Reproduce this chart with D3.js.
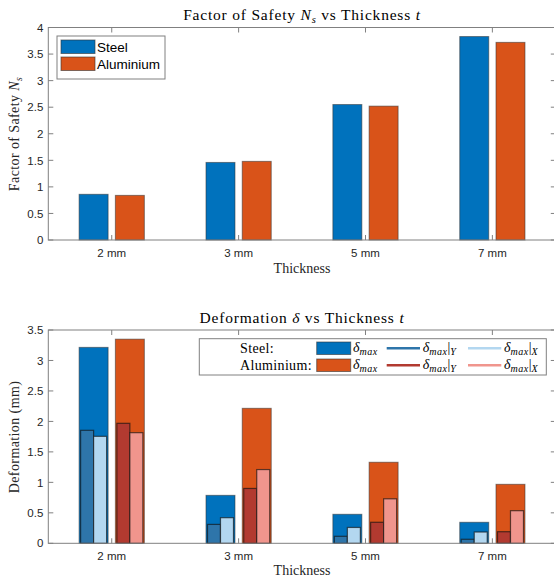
<!DOCTYPE html>
<html>
<head>
<meta charset="utf-8">
<script src="https://cdn.jsdelivr.net/npm/d3@7"></script>
<style>
  body { margin: 0; background: #fff; }
  svg { display: block; }
</style>
</head>
<body>
<div id="plot"></div>
<script>
// data
var thickness = ["2 mm", "3 mm", "5 mm", "7 mm"];
var materials = ["Steel", "Aluminium"];
var safetySteel = [0.86, 1.46, 2.55, 3.83];
var safetyAlu = [0.84, 1.48, 2.52, 3.72];
var defMaxSteel = [3.215, 0.787, 0.476, 0.345];
var defYSteel = [1.854, 0.31, 0.115, 0.066];
var defXSteel = [1.755, 0.42, 0.26, 0.185];
var defMaxAlu = [3.35, 2.215, 1.33, 0.968];
var defYAlu = [1.969, 0.90, 0.345, 0.19];
var defXAlu = [1.815, 1.21, 0.73, 0.535];
var safetyTicks = [0, 0.5, 1, 1.5, 2, 2.5, 3, 3.5, 4];
var defTicks = [0, 0.5, 1, 1.5, 2, 2.5, 3, 3.5];

var w = 554, h = 578;
var left = 48.3, right = 555.8;
var serif = "'Liberation Serif', 'DejaVu Serif', serif";
var sans = "'Liberation Sans', Arial, sans-serif";
var axisCol = "#808080", textCol = "#262626";

var colMax = { Steel: "#0072BD", Aluminium: "#D95319" };
var colY = { Steel: "#2E75AA", Aluminium: "#B23A30" };
var colX = { Steel: "#B3D7F0", Aluminium: "#F0958D" };

var svg = d3.select("#plot").append("svg")
  .attr("width", w).attr("height", h);

var x0 = d3.scaleBand().domain(thickness).range([left, right]);
var step = x0.bandwidth();
var x1 = d3.scaleBand().domain(materials)
  .range([-0.2857 * step, 0.2857 * step])
  .paddingInner(0.2).paddingOuter(0.1);

// draws axes box with ticks inward, like matlab
function drawAxes(y, ticks, top, bottom) {
  var g = svg.append("g");
  var ax = d3.axisBottom(x0).tickSize(0).tickPadding(9);
  var gx = g.append("g").attr("transform", "translate(0," + bottom + ")").call(ax);
  gx.select(".domain").remove();
  gx.selectAll("text").attr("font-family", sans).attr("font-size", 11.5).attr("fill", textCol);

  var ay = d3.axisLeft(y).tickValues(ticks).tickSize(0).tickPadding(5)
    .tickFormat(function(d) { return d; });
  var gy = g.append("g").attr("transform", "translate(" + left + ",0)").call(ay);
  gy.select(".domain").remove();
  gy.selectAll("text").attr("font-family", sans).attr("font-size", 11.5).attr("fill", textCol);

  // inward ticks
  thickness.forEach(function(c) {
    var cx = x0(c) + step / 2;
    g.append("line").attr("x1", cx).attr("x2", cx).attr("y1", bottom).attr("y2", bottom - 5)
      .attr("stroke", axisCol);
    g.append("line").attr("x1", cx).attr("x2", cx).attr("y1", top).attr("y2", top + 5)
      .attr("stroke", axisCol);
  });
  ticks.forEach(function(t) {
    g.append("line").attr("x1", left).attr("x2", left + 5).attr("y1", y(t)).attr("y2", y(t))
      .attr("stroke", axisCol);
    g.append("line").attr("x1", right - 5).attr("x2", right).attr("y1", y(t)).attr("y2", y(t))
      .attr("stroke", axisCol);
  });
  g.append("rect").attr("x", left).attr("y", top).attr("width", right - left)
    .attr("height", bottom - top).attr("fill", "none").attr("stroke", axisCol);
  return g;
}

// ---------- top chart ----------
var topY = 27.5, botY = 240;
var y1 = d3.scaleLinear().domain([0, 4]).range([botY, topY]);

var safetyRows = thickness.map(function(c, i) {
  return [{ c: c, m: "Steel", v: safetySteel[i] }, { c: c, m: "Aluminium", v: safetyAlu[i] }];
});
var gTop = svg.append("g");
gTop.selectAll("rect")
  .data(d3.merge(safetyRows))
  .enter().append("rect")
  .attr("x", function(d) { return x0(d.c) + step / 2 + x1(d.m); })
  .attr("width", x1.bandwidth())
  .attr("y", function(d) { return y1(d.v); })
  .attr("height", function(d) { return y1(0) - y1(d.v); })
  .attr("fill", function(d) { return colMax[d.m]; })
  .attr("stroke", "#333").attr("stroke-opacity", 0.55).attr("stroke-width", 1);

drawAxes(y1, safetyTicks, topY, botY);

// top legend
var lg = svg.append("g");
lg.append("rect").attr("x", 57).attr("y", 36).attr("width", 108).attr("height", 43)
  .attr("fill", "#fff").attr("stroke", axisCol);
materials.forEach(function(m, i) {
  lg.append("rect").attr("x", 61).attr("y", 40 + i * 17).attr("width", 34).attr("height", 13.5)
    .attr("fill", colMax[m]).attr("stroke", "#333").attr("stroke-opacity", 0.6);
  lg.append("text").attr("x", 97).attr("y", 51.5 + i * 17).text(m)
    .attr("font-family", sans).attr("font-size", 13.5).attr("fill", "#000");
});

// titles / labels top
var t1 = svg.append("text").attr("x", 302).attr("y", 20).attr("text-anchor", "middle")
  .attr("font-family", serif).attr("font-size", 15.5).attr("letter-spacing", 0.8).attr("fill", "#000");
t1.append("tspan").text("Factor of Safety ");
t1.append("tspan").attr("font-style", "italic").text("N");
t1.append("tspan").attr("font-style", "italic").attr("font-size", 10.5).attr("dy", 3).text("s");
t1.append("tspan").attr("dy", -3).text(" vs Thickness ");
t1.append("tspan").attr("font-style", "italic").text("t");

svg.append("text").attr("x", 302).attr("y", 273).attr("text-anchor", "middle")
  .attr("font-family", serif).attr("font-size", 14).attr("fill", "#262626").text("Thickness");

var yl1 = svg.append("text").attr("transform", "translate(19,134) rotate(-90)")
  .attr("text-anchor", "middle").attr("font-family", serif).attr("font-size", 14)
  .attr("letter-spacing", 0.4).attr("fill", "#262626");
yl1.append("tspan").text("Factor of Safety ");
yl1.append("tspan").attr("font-style", "italic").text("N");
yl1.append("tspan").attr("font-style", "italic").attr("font-size", 9.5).attr("dy", 3).text("s");

// ---------- bottom chart ----------
var topB = 330, botB = 543.3;
var y2 = d3.scaleLinear().domain([0, 3.5]).range([botB, topB]);

var defRows = [];
thickness.forEach(function(c, i) {
  defRows.push({ c: c, m: "Steel", max: defMaxSteel[i], y: defYSteel[i], x: defXSteel[i] });
  defRows.push({ c: c, m: "Aluminium", max: defMaxAlu[i], y: defYAlu[i], x: defXAlu[i] });
});

var inner = d3.scaleBand().domain(["y", "x"])
  .range([1.5, x1.bandwidth() - 1.5]);

var gB = svg.append("g");
var grp = gB.selectAll("g.grp").data(defRows).enter().append("g")
  .attr("transform", function(d) { return "translate(" + (x0(d.c) + step / 2 + x1(d.m)) + ",0)"; });
grp.append("rect")
  .attr("x", 0).attr("width", x1.bandwidth())
  .attr("y", function(d) { return y2(d.max); })
  .attr("height", function(d) { return y2(0) - y2(d.max); })
  .attr("fill", function(d) { return colMax[d.m]; })
  .attr("stroke", "#333").attr("stroke-opacity", 0.55);
grp.append("rect")
  .attr("x", inner("y")).attr("width", inner.bandwidth())
  .attr("y", function(d) { return y2(d.y); })
  .attr("height", function(d) { return y2(0) - y2(d.y); })
  .attr("fill", function(d) { return colY[d.m]; })
  .attr("stroke", "#111").attr("stroke-opacity", 0.65).attr("stroke-width", 1.2);
grp.append("rect")
  .attr("x", inner("x")).attr("width", inner.bandwidth())
  .attr("y", function(d) { return y2(d.x); })
  .attr("height", function(d) { return y2(0) - y2(d.x); })
  .attr("fill", function(d) { return colX[d.m]; })
  .attr("stroke", "#111").attr("stroke-opacity", 0.65).attr("stroke-width", 1.2);

drawAxes(y2, defTicks, topB, botB);

// bottom legend
var lb = svg.append("g");
lb.append("rect").attr("x", 199.3).attr("y", 338.7).attr("width", 347).attr("height", 36.3)
  .attr("fill", "#fff").attr("stroke", axisCol);

function deltaLabel(xp, yp, sub) {
  var t = lb.append("text").attr("x", xp).attr("y", yp)
    .attr("font-family", serif).attr("font-size", 14).attr("fill", "#000");
  t.append("tspan").attr("font-style", "italic").text("δ");
  t.append("tspan").attr("font-style", "italic").attr("font-size", 10).attr("dy", 3)
    .attr("letter-spacing", 0.5).text("max");
  if (sub) {
    t.append("tspan").attr("font-size", 14).attr("dy", -3).text("|");
    t.append("tspan").attr("font-style", "italic").attr("font-size", 10).attr("dy", 3).text(sub);
  }
}
materials.forEach(function(m, i) {
  var cy = 348.3 + i * 17;
  lb.append("text").attr("x", 240).attr("y", cy + 4.5).text(m + ":")
    .attr("font-family", serif).attr("font-size", 14).attr("letter-spacing", 0.35).attr("fill", "#000");
  lb.append("rect").attr("x", 316.7).attr("y", cy - 6.3).attr("width", 34).attr("height", 12.5)
    .attr("fill", colMax[m]).attr("stroke", "#333").attr("stroke-opacity", 0.6);
  deltaLabel(353, cy + 4, null);
  lb.append("line").attr("x1", 386.7).attr("x2", 420).attr("y1", cy).attr("y2", cy)
    .attr("stroke", colY[m]).attr("stroke-width", 2.5);
  deltaLabel(422.7, cy + 4, "Y");
  lb.append("line").attr("x1", 468).attr("x2", 501.3).attr("y1", cy).attr("y2", cy)
    .attr("stroke", colX[m]).attr("stroke-width", 2.5);
  deltaLabel(504, cy + 4, "X");
});

var t2 = svg.append("text").attr("x", 302).attr("y", 323).attr("text-anchor", "middle")
  .attr("font-family", serif).attr("font-size", 15.5).attr("letter-spacing", 0.8).attr("fill", "#000");
t2.append("tspan").text("Deformation ");
t2.append("tspan").attr("font-style", "italic").text("δ");
t2.append("tspan").text(" vs Thickness ");
t2.append("tspan").attr("font-style", "italic").text("t");

svg.append("text").attr("x", 302).attr("y", 575).attr("text-anchor", "middle")
  .attr("font-family", serif).attr("font-size", 14).attr("fill", "#262626").text("Thickness");

svg.append("text").attr("transform", "translate(19,437) rotate(-90)")
  .attr("text-anchor", "middle").attr("font-family", serif).attr("font-size", 14)
  .attr("letter-spacing", 0.4).attr("fill", "#262626").text("Deformation (mm)");
</script>
</body>
</html>
